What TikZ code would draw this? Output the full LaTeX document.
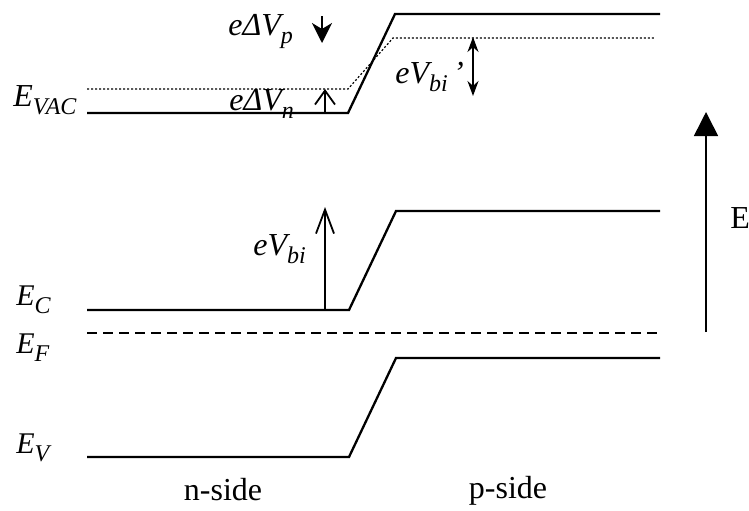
\documentclass[tikz,border=0pt]{standalone}
\usepackage{fontspec}
\setmainfont{Liberation Serif}
\usetikzlibrary{arrows.meta}
\newcommand\sbs[1]{\raisebox{-0.28em}{\fontsize{12}{12}\selectfont #1}}
\begin{document}
\begin{tikzpicture}[x=0.5pt,y=-0.5pt,
  band/.style={line width=1.15pt, line join=miter},
  vacdot/.style={line width=0.6pt, dash pattern=on 1pt off 1pt},
  fermi/.style={line width=1.15pt, dash pattern=on 5pt off 3pt},
  lbl/.style={inner sep=0pt, anchor=base west, font=\fontsize{16}{19}\selectfont\itshape},
  lbls/.style={inner sep=0pt, anchor=base west, font=\fontsize{15}{18}\selectfont\itshape},
  side/.style={inner sep=0pt, anchor=base, font=\fontsize{16}{19}\selectfont},
  openarr/.style={line width=0.9pt, -{Straight Barb[length=7pt,width=10pt,line width=0.9pt]}},
  fillarr/.style={line width=1pt, -{Stealth[length=10pt,width=10pt,inset=3pt]}},
  dblarr/.style={line width=0.9pt, {Stealth[length=7.5pt,width=5.5pt]}-{Stealth[length=7.5pt,width=5.5pt]}},
  axisarr/.style={line width=0.8pt, -{Triangle[length=12pt,width=12pt]}}]
\useasboundingbox (0,0) rectangle (749,510);
% band coordinates
\coordinate (v1) at (87,113);  \coordinate (v2) at (348,113);
\coordinate (v3) at (395,14);  \coordinate (v4) at (660,14);
\coordinate (d1) at (87,89);   \coordinate (d2) at (348,89);
\coordinate (d3) at (393,38);  \coordinate (d4) at (655,38);
\coordinate (c1) at (87,310);  \coordinate (c2) at (349,310);
\coordinate (c3) at (396,211); \coordinate (c4) at (660,211);
\coordinate (f1) at (87,333);  \coordinate (f2) at (660,333);
\coordinate (b1) at (87,457);  \coordinate (b2) at (349,457);
\coordinate (b3) at (396,358); \coordinate (b4) at (660,358);
% bands
\draw[band] (v1) -- (v2) -- (v3) -- (v4);
\draw[vacdot] (d1) -- (d2) -- (d3) -- (d4);
\draw[band] (c1) -- (c2) -- (c3) -- (c4);
\draw[fermi] (f1) -- (f2);
\draw[band] (b1) -- (b2) -- (b3) -- (b4);
% arrows
\coordinate (pa1) at (322,16); \coordinate (pa2) at (322,43);
\draw[fillarr] (pa1) -- (pa2);
\coordinate (na1) at (325,113); \coordinate (na2) at (325,89);
\draw[openarr] (na1) -- (na2);
\coordinate (ba1) at (325,310); \coordinate (ba2) at (325,207);
\draw[line width=0.9pt, -{Straight Barb[length=12pt,width=9pt,line width=0.9pt]}] (ba1) -- (ba2);
\coordinate (bp1) at (473,37); \coordinate (bp2) at (473,96);
\draw[dblarr] (bp1) -- (bp2);
\coordinate (ea1) at (706,332); \coordinate (ea2) at (706,112);
\draw[axisarr] (ea1) -- (ea2);
% labels
\node[lbl] (lvac) at (13,106) {E\sbs{VAC}};
\node[lbls] (lc) at (16,305) {E\sbs{C}};
\node[lbls] (lf) at (16,353) {E\sbs{F}};
\node[lbls] (lv) at (16,453) {E\sbs{V}};
\node[lbl] (ldp) at (228,35) {eΔV\sbs{p}};
\node[lbl] (ldn) at (229,110) {eΔV\sbs{n}};
\node[lbl] (lbi) at (253,255) {eV\sbs{bi}};
\node[lbl] (lbip) at (395,83) {eV\sbs{bi}\,’};
\node[inner sep=0pt, anchor=base west, font=\fontsize{16}{19}\selectfont] (le) at (730,228) {E};
\node[side] (ln) at (223,500) {n-side};
\node[side] (lp) at (508,498) {p-side};
\end{tikzpicture}
\end{document}
